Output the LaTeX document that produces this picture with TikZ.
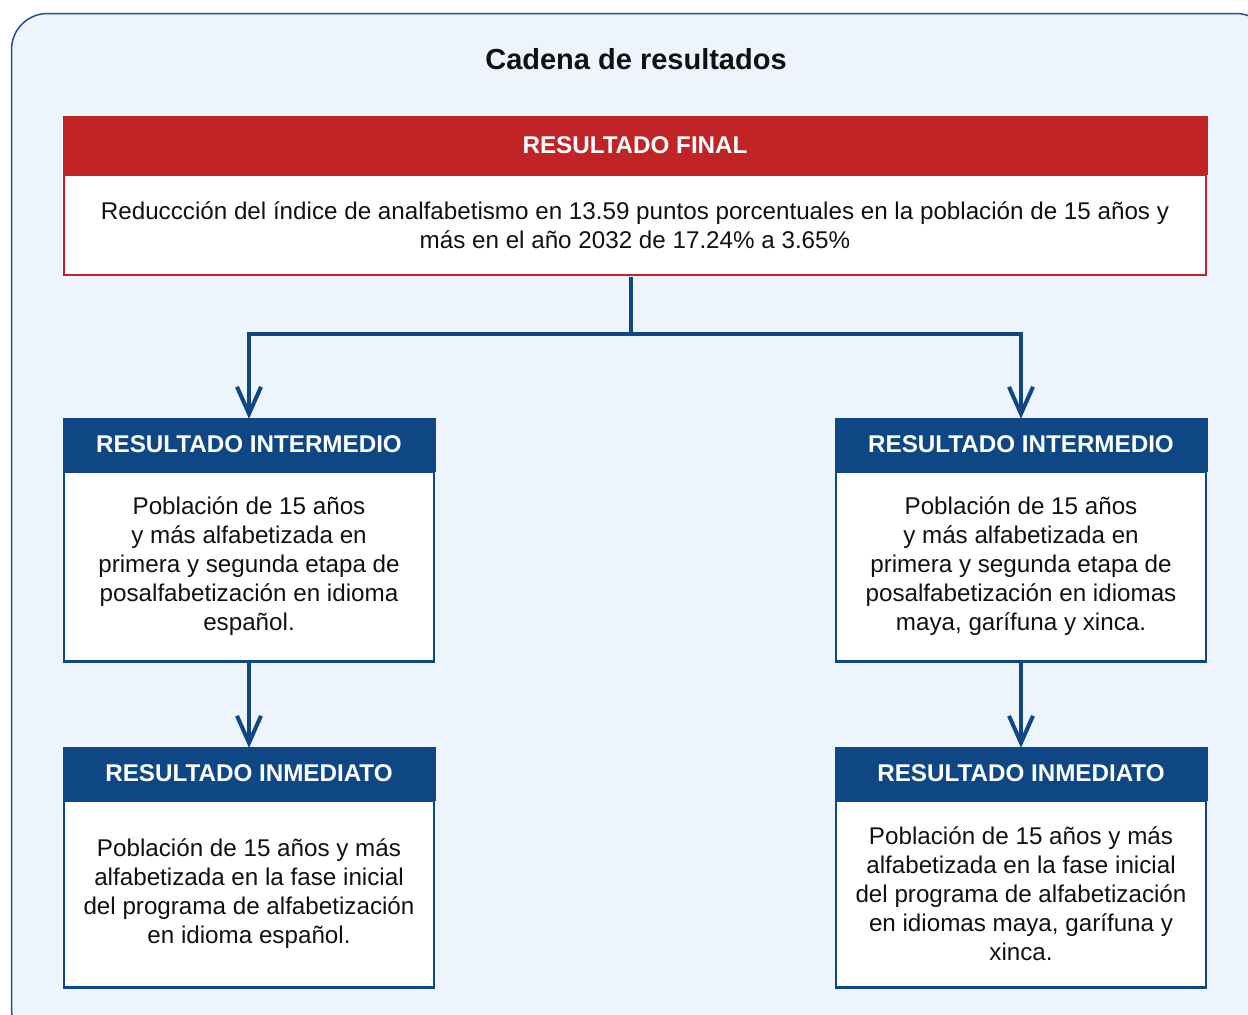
\documentclass[tikz,border=0pt]{standalone}
\usepackage{fontspec}
\setmainfont{Liberation Sans}
\usetikzlibrary{arrows.meta}
\definecolor{bgc}{HTML}{EDF4FC}
\definecolor{bgline}{HTML}{1F5390}
\definecolor{redc}{HTML}{C12426}
\definecolor{bluec}{HTML}{0E4784}
\definecolor{txt}{HTML}{111111}
\tikzset{
  hdr/.style={fill=#1, draw=#1, line width=0.5pt, text=white, font=\fontsize{24.2}{28}\selectfont\bfseries, inner sep=0pt, anchor=center},
  bodybox/.style={fill=white, draw=#1, line width=2.2pt, text=txt, font=\fontsize{24.2}{29}\selectfont, align=center, inner sep=0pt, anchor=center},
  arr/.style={draw=bluec, line width=4pt, -{Straight Barb[length=27pt,width=24pt,line width=4pt]}},
  conn/.style={draw=bluec, line width=4pt},
}
\begin{document}
\begin{tikzpicture}[x=1pt,y=-1pt]
\clip (0,0) rectangle (1248,1015);
\useasboundingbox (0,0) rectangle (1248,1015);
\draw[fill=bgc, draw=bgline, line width=1.5pt, rounded corners=36pt] (11.5,13.5) rectangle (1272,1045);
\node[font=\fontsize{29}{33}\selectfont\bfseries, text=txt] (title) at (636,59) {Cadena de resultados};
% final
\node[bodybox=redc, minimum width=1142pt, minimum height=100pt] (fb) at (635,225) {Reduccción del índice de analfabetismo en 13.59 puntos porcentuales en la población de 15 años y\\ más en el año 2032 de 17.24\% a 3.65\%};
\node[hdr=redc, minimum width=1144pt, minimum height=58pt] (fh) at (635,145) {RESULTADO FINAL};
% intermediate
\node[bodybox=bluec, minimum width=370pt, minimum height=190pt] (lib) at (249,566.5) {Población de 15 años\\ y más alfabetizada en\\ primera y segunda etapa de\\ posalfabetización en idioma\\ español.};
\node[hdr=bluec, minimum width=372pt, minimum height=53pt] (lih) at (249,444.5) {RESULTADO INTERMEDIO};
\node[bodybox=bluec, minimum width=370pt, minimum height=190pt] (rib) at (1021,566.5) {Población de 15 años\\ y más alfabetizada en\\ primera y segunda etapa de\\ posalfabetización en idiomas\\ maya, garífuna y xinca.};
\node[hdr=bluec, minimum width=372pt, minimum height=53pt] (rih) at (1021,444.5) {RESULTADO INTERMEDIO};
% immediate
\node[bodybox=bluec, minimum width=370pt, minimum height=187pt] (lmb) at (249,894) {Población de 15 años y más\\ alfabetizada en la fase inicial\\ del programa de alfabetización\\ en idioma español.};
\node[hdr=bluec, minimum width=372pt, minimum height=53pt] (lmh) at (249,773.5) {RESULTADO INMEDIATO};
\node[bodybox=bluec, minimum width=370pt, minimum height=187pt] (rmb) at (1021,894) {Población de 15 años y más\\ alfabetizada en la fase inicial\\ del programa de alfabetización\\ en idiomas maya, garífuna y\\ xinca.};
\node[hdr=bluec, minimum width=372pt, minimum height=53pt] (rmh) at (1021,773.5) {RESULTADO INMEDIATO};
% connectors
\coordinate (j) at (631,334);
\draw[conn] (631,277) -- (j);
\draw[arr] (j) -| ([yshift=-1pt]lih.north);
\draw[arr] (j) -| ([yshift=-1pt]rih.north);
\draw[arr] (lib.south) -- ([yshift=-1pt]lmh.north);
\draw[arr] (rib.south) -- ([yshift=-1pt]rmh.north);
\end{tikzpicture}
\end{document}
